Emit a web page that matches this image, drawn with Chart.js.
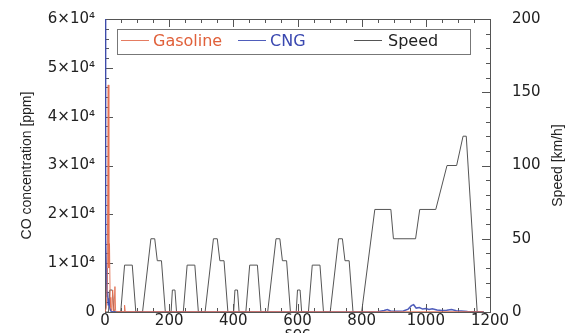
<!DOCTYPE html>
<html>
<head>
<meta charset="utf-8">
<script src="https://cdn.jsdelivr.net/npm/chart.js@4.4.1/dist/chart.umd.min.js"></script>
<style>
  html, body { margin: 0; padding: 0; background: #fff; }
  #wrap { width: 574px; height: 333px; }
</style>
</head>
<body>
<div id="wrap"><canvas id="coChart" width="574" height="333"></canvas></div>
<script>
// NEDC speed profile (sec, km/h)
const speedTime = [0, 11, 15, 23, 28, 49, 61, 85, 96, 117, 143, 155, 163, 176, 188, 195,
  206, 210, 218, 223, 244, 256, 280, 291, 312, 338, 350, 358, 371, 383, 390,
  401, 405, 413, 418, 439, 451, 475, 486, 507, 533, 545, 553, 566, 578, 585,
  596, 600, 608, 613, 634, 646, 670, 681, 702, 728, 740, 748, 761, 773, 780,
  800, 841, 891, 899, 968, 981, 1031, 1066, 1096, 1116, 1126, 1160, 1180];
const speedKmh = [0, 0, 15, 15, 0, 0, 32, 32, 0, 0, 50, 50, 35, 35, 0, 0,
  0, 15, 15, 0, 0, 32, 32, 0, 0, 50, 50, 35, 35, 0, 0,
  0, 15, 15, 0, 0, 32, 32, 0, 0, 50, 50, 35, 35, 0, 0,
  0, 15, 15, 0, 0, 32, 32, 0, 0, 50, 50, 35, 35, 0, 0,
  0, 70, 70, 50, 50, 70, 70, 100, 100, 120, 120, 0, 0];

// CO concentration, gasoline (sec, ppm)
const gasTime = [0, 4, 7, 10, 12, 14, 16, 18, 21, 24, 26, 28, 31, 33, 36, 40, 50, 60, 61, 63, 70, 100, 300, 500, 700, 900, 1100, 1180];
const gasPpm = [0, 800, 6000, 46500, 9000, 14000, 3000, 900, 300, 4500, 500, 200, 5200, 300, 120, 100, 80, 80, 1400, 100, 80, 60, 60, 60, 50, 50, 60, 50];

// CO concentration, CNG (sec, ppm)
const cngTime = [0, 1, 2, 3, 4, 6, 8, 10, 12, 14, 16, 18, 20, 25, 30, 100, 400, 700, 850, 870, 880, 890, 910, 930, 945, 955, 962, 970, 980, 990, 1000, 1010, 1020, 1035, 1050, 1065, 1080, 1095, 1110, 1130, 1180];
const cngPpm = [62000, 65000, 40000, 15000, 9000, 3000, 4200, 1500, 2800, 1200, 600, 300, 100, 50, 20, 10, 10, 10, 50, 300, 500, 200, 150, 200, 600, 1300, 1500, 800, 900, 600, 700, 500, 650, 400, 300, 350, 500, 250, 200, 100, 50];

const xTicks = [0, 200, 400, 600, 800, 1000, 1200];
const coTicks = [0, 10000, 20000, 30000, 40000, 50000, 60000];
const speedTicks = [0, 50, 100, 150, 200];

function pairs(xs, ys) {
  return xs.map((t, i) => ({ x: t, y: ys[i] }));
}

const frame = {
  id: "frame",
  beforeDatasetsDraw(chart) {
    const { ctx, chartArea: a, scales } = chart;
    const x = scales.x, y = scales.y, y1 = scales.y1;
    ctx.save();
    ctx.strokeStyle = "#555";
    ctx.lineWidth = 1;
    ctx.strokeRect(a.left + 0.5, a.top + 0.5, a.right - a.left, a.bottom - a.top);
    ctx.beginPath();
    for (let v = 0; v <= 1200; v += 50) {
      const px = Math.round(x.getPixelForValue(v)) + 0.5;
      const len = v % 200 === 0 ? 8 : 4;
      ctx.moveTo(px, a.bottom); ctx.lineTo(px, a.bottom - len);
      ctx.moveTo(px, a.top); ctx.lineTo(px, a.top + len);
    }
    for (let v = 0; v <= 60000; v += 2000) {
      const py = Math.round(y.getPixelForValue(v)) + 0.5;
      const len = v % 10000 === 0 ? 8 : 4;
      ctx.moveTo(a.left, py); ctx.lineTo(a.left + len, py);
    }
    for (let v = 0; v <= 200; v += 10) {
      const py = Math.round(y1.getPixelForValue(v)) + 0.5;
      const len = v % 50 === 0 ? 8 : 4;
      ctx.moveTo(a.right, py); ctx.lineTo(a.right - len, py);
    }
    ctx.stroke();
    ctx.restore();
  },
  afterDraw(chart) {
    const { ctx, chartArea: a, scales } = chart;
    ctx.save();
    // right axis title, reading upwards like the left one
    ctx.translate(scales.y1.right - 16, (a.top + a.bottom) / 2);
    ctx.rotate(-Math.PI / 2);
    ctx.font = "14px 'Liberation Sans'";
    ctx.fillStyle = "#222";
    ctx.textAlign = "center";
    ctx.textBaseline = "middle";
    ctx.fillText("Speed [km/h]", 0, 0);
    ctx.restore();

    // legend box
    ctx.save();
    const bx = a.left + 12, by = a.top + 10, bw = 353, bh = 25;
    ctx.fillStyle = "#fff";
    ctx.fillRect(bx, by, bw, bh);
    ctx.strokeStyle = "#777";
    ctx.lineWidth = 1;
    ctx.strokeRect(bx + 0.5, by + 0.5, bw, bh);
    const items = [
      { ds: 0, lx: 4, tx: 36, color: "#e0603a" },
      { ds: 1, lx: 121, tx: 153, color: "#3a48b0" },
      { ds: 2, lx: 237, tx: 271, color: "#222" }
    ];
    ctx.font = "16px 'DejaVu Sans'";
    ctx.textBaseline = "middle";
    items.forEach(it => {
      const d = chart.data.datasets[it.ds];
      ctx.strokeStyle = d.borderColor;
      ctx.lineWidth = 1;
      ctx.beginPath();
      ctx.moveTo(bx + it.lx, by + 11.5);
      ctx.lineTo(bx + it.lx + 28, by + 11.5);
      ctx.stroke();
      ctx.fillStyle = it.color;
      ctx.fillText(d.label, bx + it.tx, by + 13);
    });
    ctx.restore();
  }
};

Chart.defaults.font.family = "'DejaVu Sans', sans-serif";
Chart.defaults.color = "#222";

const ctxCo = document.getElementById("coChart").getContext("2d");
const coChart = new Chart(ctxCo, {
  type: "line",
  data: {
    datasets: [
      {
        label: "Gasoline",
        data: pairs(gasTime, gasPpm),
        borderColor: "rgba(226, 110, 80, 0.9)",
        borderWidth: 1,
        pointRadius: 0,
        yAxisID: "y",
      },
      {
        label: "CNG",
        data: pairs(cngTime, cngPpm),
        borderColor: "rgba(60, 75, 180, 0.9)",
        borderWidth: 1.5,
        pointRadius: 0,
        yAxisID: "y",
      },
      {
        label: "Speed",
        data: pairs(speedTime, speedKmh),
        borderColor: "#555",
        borderWidth: 1,
        pointRadius: 0,
        yAxisID: "y1",
      },
    ],
  },
  options: {
    responsive: false,
    animation: false,
    layout: { padding: { top: 19, left: 0, right: 0, bottom: 0 } },
    plugins: { legend: { display: false }, tooltip: { enabled: false } },
    scales: {
      x: {
        type: "linear",
        min: 0,
        max: 1200,
        afterFit: (s) => { s.height = 21; s.paddingLeft = 0; s.paddingRight = 0; },
        afterBuildTicks: (s) => { s.ticks = xTicks.map(v => ({ value: v })); },
        grid: { display: false, drawTicks: false },
        border: { display: false },
        ticks: { padding: 0, maxRotation: 0, autoSkip: false, font: { size: 15 }, callback: (v) => String(v) },
        title: { display: true, text: "sec", font: { size: 15 }, padding: { top: 0, bottom: -10 } },
      },
      y: {
        position: "left",
        min: 0,
        max: 60000,
        afterFit: (s) => { s.width = 105; s.paddingTop = 0; s.paddingBottom = 0; },
        afterBuildTicks: (s) => { s.ticks = coTicks.map(v => ({ value: v })); },
        grid: { display: false, drawTicks: false },
        border: { display: false },
        ticks: {
          padding: 10,
          font: { size: 15 },
          callback: (v) => (v === 0 ? "0" : v / 10000 + "×10⁴"),
        },
        title: {
          display: true,
          text: "CO concentration [ppm]",
          font: { family: "'Liberation Sans'", size: 14 },
          padding: { top: 19, bottom: 0 },
        },
      },
      y1: {
        position: "right",
        min: 0,
        max: 200,
        afterFit: (s) => { s.width = 84; s.paddingTop = 0; s.paddingBottom = 0; },
        afterBuildTicks: (s) => { s.ticks = speedTicks.map(v => ({ value: v })); },
        grid: { display: false, drawTicks: false },
        border: { display: false },
        ticks: { padding: 22, font: { size: 15 } },
        title: { display: false },
      },
    },
  },
  plugins: [frame],
});
</script>
</body>
</html>
